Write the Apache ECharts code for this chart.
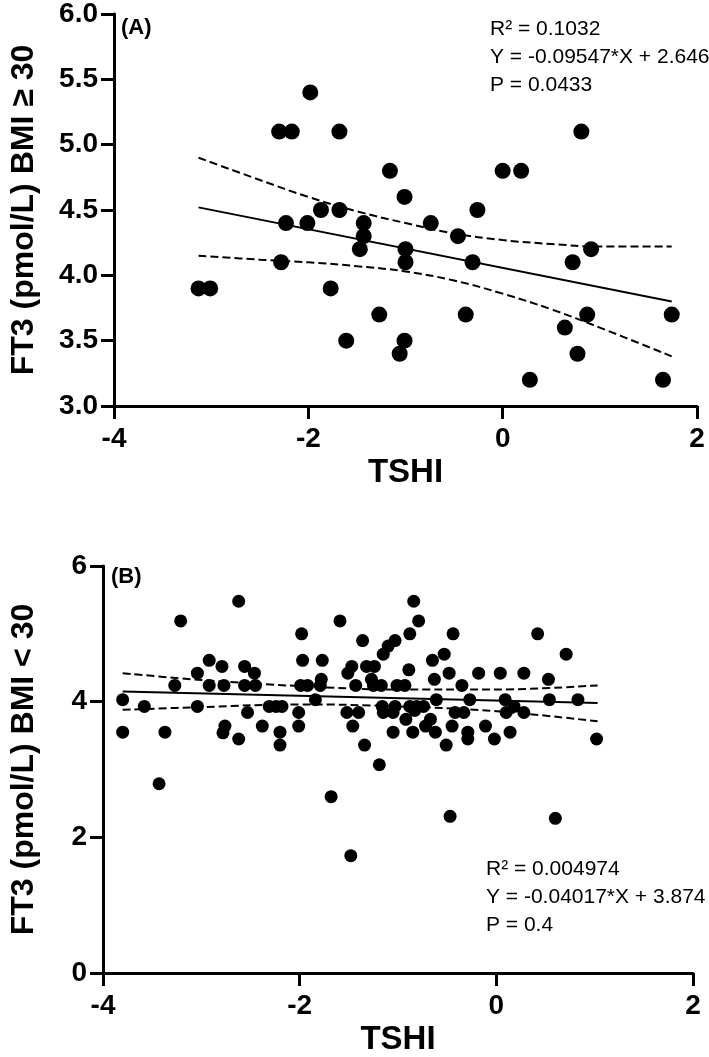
<!DOCTYPE html>
<html>
<head>
<meta charset="utf-8">
<script src="https://cdn.jsdelivr.net/npm/echarts@6/dist/echarts.min.js"></script>
<style>
html,body{margin:0;padding:0;background:#fff;}
#chart{width:709px;height:1057px;}
</style>
</head>
<body>
<div id="chart"></div>
<script>
// ---------- Panel A (BMI >= 30) ----------
const aX = [-3.13,-3.01,-2.30,-2.17,-2.28,-2.23,-1.98,-2.01,-1.87,-1.77,
  -1.68,-1.68,-1.61,-1.47,-1.43,-1.43,-1.27,-1.16,-1.06,-1.01,
  -1.00,-1.00,-1.01,-0.74,-0.46,-0.38,-0.31,-0.26,0.00,0.19,
  0.28,0.64,0.72,0.77,0.81,0.87,0.91,1.65,1.74];
const aY = [3.9,3.9,5.1,5.1,4.1,4.4,5.4,4.4,4.5,3.9,
  5.1,4.5,3.5,4.2,4.4,4.3,3.7,4.8,3.4,4.6,
  4.2,4.1,3.5,4.4,4.3,3.7,4.1,4.5,4.8,4.8,
  3.2,3.6,4.1,3.4,5.1,3.7,4.2,3.2,3.7];
const aFitX = [-3.13, 1.74];
const aFitY = [4.52, 3.80];
const aBandX = [-3.13,-2.5,-2.0,-1.5,-1.0,-0.5,0,0.5,1.0,1.74];
const aUpper = [4.90,4.73,4.60,4.49,4.40,4.32,4.27,4.24,4.22,4.22];
const aLower = [4.15,4.12,4.10,4.07,4.03,3.96,3.86,3.74,3.60,3.38];
const aYTicks = {min:3, max:6, interval:0.5};
const aStats = ['R\u00B2 = 0.1032', 'Y = -0.09547*X + 2.646', 'P = 0.0433'];

// ---------- Panel B (BMI < 30) ----------
const bX = [-3.80,-3.80,-3.58,-3.43,-3.37,-3.27,-3.21,-3.04,-3.04,-2.92,
  -2.92,-2.79,-2.77,-2.76,-2.78,-2.62,-2.62,-2.56,-2.56,-2.53,
  -2.46,-2.45,-2.38,-2.31,-2.24,-2.18,-2.20,-2.20,-2.01,-2.01,
  -1.98,-1.97,-1.99,-1.92,-1.84,-1.79,-1.78,-1.77,-1.68,-1.59,
  -1.52,-1.51,-1.48,-1.47,-1.46,-1.43,-1.40,-1.36,-1.34,-1.32,
  -1.27,-1.25,-1.24,-1.19,-1.17,-1.16,-1.15,-1.15,-1.10,-1.05,
  -1.05,-1.03,-1.03,-1.01,-0.93,-0.92,-0.89,-0.88,-0.88,-0.85,
  -0.84,-0.83,-0.81,-0.79,-0.74,-0.72,-0.67,-0.65,-0.63,-0.62,
  -0.61,-0.53,-0.51,-0.48,-0.47,-0.45,-0.44,-0.42,-0.35,-0.33,
  -0.29,-0.29,-0.27,-0.18,-0.11,-0.02,0.04,0.09,0.10,0.14,
  0.18,0.28,0.28,0.42,0.53,0.54,0.60,0.71,0.83,1.02];
const bY = [4.03,3.55,3.93,2.79,3.55,4.24,5.19,4.42,3.93,4.61,
  4.24,4.52,4.24,3.64,3.54,3.45,5.48,4.52,4.24,3.84,
  4.42,4.24,3.64,3.93,3.93,3.93,3.55,3.36,3.84,3.64,
  5.00,4.61,4.24,4.24,4.03,4.24,4.33,4.61,2.60,5.19,
  3.84,4.42,1.73,4.52,3.64,4.24,3.84,4.90,3.36,4.52,
  4.33,4.24,4.52,3.07,4.24,3.93,4.70,3.84,4.82,3.84,
  3.55,4.90,3.93,4.24,4.24,3.74,4.47,5.00,3.93,3.55,
  5.48,3.87,3.93,5.19,3.93,3.64,3.74,4.61,4.33,3.55,
  4.03,4.70,3.36,4.42,2.31,3.64,5.00,3.84,4.24,3.84,
  3.55,3.45,4.03,4.42,3.64,3.45,4.42,4.03,3.84,3.55,
  3.93,4.42,3.84,5.00,4.33,4.03,2.28,4.70,4.03,3.45];
const bFitX = [-3.80, 1.03];
const bFitY = [4.15, 3.98];
const bBandX = [-3.8,-3,-2,-1,0,1.03];
const bUpper = [4.42,4.32,4.23,4.18,4.18,4.24];
const bLower = [3.88,3.92,3.96,3.93,3.86,3.71];
const bYTicks = {min:0, max:6, interval:2};
const bStats = ['R\u00B2 = 0.004974', 'Y = -0.04017*X + 3.874', 'P = 0.4'];

const xTicks = {min:-4, max:2, interval:2};
const xName = 'TSHI';
const aYName = 'FT3 (pmol/L) BMI \u2265 30';
const bYName = 'FT3 (pmol/L) BMI < 30';

const FONT = '"Liberation Sans", Arial, Helvetica, sans-serif';
const zip = (xs, ys) => xs.map((x, i) => [x, ys[i]]);

function xAxisOpt(gridIndex) {
  return {
    type: 'value', gridIndex, min: xTicks.min, max: xTicks.max, interval: xTicks.interval,
    name: xName, nameLocation: 'middle', nameGap: 50,
    nameTextStyle: {fontFamily: FONT, fontWeight: 'bold', fontSize: 33, color: '#000'},
    axisLine: {show: true, onZero: false, lineStyle: {color: '#000', width: 3}},
    axisTick: {show: true, length: 13, lineStyle: {color: '#000', width: 3}},
    axisLabel: {fontFamily: FONT, fontWeight: 'bold', fontSize: 28, color: '#000', margin: 19},
    splitLine: {show: false}
  };
}
function yAxisOpt(gridIndex, t, name, gap, decimals) {
  return {
    type: 'value', gridIndex, min: t.min, max: t.max, interval: t.interval,
    name, nameLocation: 'middle', nameGap: gap, nameRotate: 90,
    nameTextStyle: {fontFamily: FONT, fontWeight: 'bold', fontSize: 32, color: '#000'},
    axisLine: {show: true, onZero: false, lineStyle: {color: '#000', width: 3}},
    axisTick: {show: true, length: 13, lineStyle: {color: '#000', width: 3}},
    axisLabel: {fontFamily: FONT, fontWeight: 'bold', fontSize: 28, color: '#000', margin: 16,
      formatter: v => v.toFixed(decimals)},
    splitLine: {show: false}
  };
}
function lineSeries(idx, data, dashed) {
  return {
    type: 'line', xAxisIndex: idx, yAxisIndex: idx, data, smooth: dashed ? 0.4 : false,
    showSymbol: false, symbol: 'none', silent: true, z: 1,
    lineStyle: {color: '#000', width: 2, type: dashed ? [8, 4] : 'solid'}
  };
}
function scatterSeries(idx, data, size) {
  return {
    type: 'scatter', xAxisIndex: idx, yAxisIndex: idx, data, symbolSize: size,
    itemStyle: {color: '#000', opacity: 1}, z: 3
  };
}

const chart = echarts.init(document.getElementById('chart'), null, {renderer: 'canvas'});
chart.setOption({
  animation: false,
  backgroundColor: '#fff',
  grid: [
    {left: 112, top: 14, width: 585, height: 392},
    {left: 101, top: 566, width: 592, height: 409}
  ],
  xAxis: [xAxisOpt(0), xAxisOpt(1)],
  yAxis: [yAxisOpt(0, aYTicks, aYName, 74, 1), yAxisOpt(1, bYTicks, bYName, 63, 0)],
  series: [
    lineSeries(0, zip(aBandX, aUpper), true),
    lineSeries(0, zip(aBandX, aLower), true),
    lineSeries(0, zip(aFitX, aFitY), false),
    scatterSeries(0, zip(aX, aY), 16),
    lineSeries(1, zip(bBandX, bUpper), true),
    lineSeries(1, zip(bBandX, bLower), true),
    lineSeries(1, zip(bFitX, bFitY), false),
    scatterSeries(1, zip(bX, bY), 13)
  ],
  graphic: [
    {type: 'text', left: 121, top: 17, style: {text: '(A)', font: 'bold 22px ' + FONT, fill: '#000'}},
    {type: 'text', left: 111, top: 566, style: {text: '(B)', font: 'bold 22px ' + FONT, fill: '#000'}},
    {type: 'text', left: 490, top: 15, style: {text: aStats.join('\n'), font: '21px ' + FONT, lineHeight: 28, fill: '#000'}},
    {type: 'text', left: 486, top: 855, style: {text: bStats.join('\n'), font: '21px ' + FONT, lineHeight: 28, fill: '#000'}}
  ]
});
</script>
</body>
</html>
